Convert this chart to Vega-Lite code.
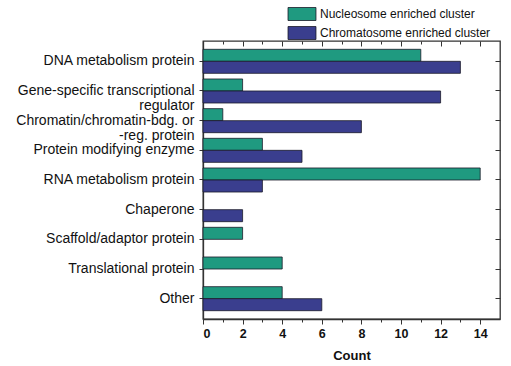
{
  "$schema": "https://vega.github.io/schema/vega-lite/v6.json",
  "width": 297,
  "height": 278,
  "autosize": {"type": "none"},
  "padding": {"left": 203, "top": 41, "right": 11, "bottom": 47},
  "background": "white",
  "config": {
    "font": "Liberation Sans",
    "view": {"stroke": "#333333", "strokeWidth": 1.3},
    "axis": {"domainColor": "#333333", "tickColor": "#333333", "labelColor": "#111111", "titleColor": "#111111", "grid": false, "domainWidth": 1.3, "tickWidth": 1}
  },
  "data": {
    "values": [
      {"category": "DNA metabolism protein", "series": "Nucleosome enriched cluster", "count": 11},
      {"category": "DNA metabolism protein", "series": "Chromatosome enriched cluster", "count": 13},
      {"category": "Gene-specific transcriptional regulator", "series": "Nucleosome enriched cluster", "count": 2},
      {"category": "Gene-specific transcriptional regulator", "series": "Chromatosome enriched cluster", "count": 12},
      {"category": "Chromatin/chromatin-bdg. or -reg. protein", "series": "Nucleosome enriched cluster", "count": 1},
      {"category": "Chromatin/chromatin-bdg. or -reg. protein", "series": "Chromatosome enriched cluster", "count": 8},
      {"category": "Protein modifying enzyme", "series": "Nucleosome enriched cluster", "count": 3},
      {"category": "Protein modifying enzyme", "series": "Chromatosome enriched cluster", "count": 5},
      {"category": "RNA metabolism protein", "series": "Nucleosome enriched cluster", "count": 14},
      {"category": "RNA metabolism protein", "series": "Chromatosome enriched cluster", "count": 3},
      {"category": "Chaperone", "series": "Chromatosome enriched cluster", "count": 2},
      {"category": "Scaffold/adaptor protein", "series": "Nucleosome enriched cluster", "count": 2},
      {"category": "Translational protein", "series": "Nucleosome enriched cluster", "count": 4},
      {"category": "Other", "series": "Nucleosome enriched cluster", "count": 4},
      {"category": "Other", "series": "Chromatosome enriched cluster", "count": 6}
    ]
  },
  "resolve": {"axis": {"x": "independent", "y": "independent"}},
  "layer": [
    {
      "mark": {"type": "bar", "stroke": "#1a1a2a", "strokeWidth": 0.8},
      "encoding": {
        "y": {
          "field": "category", "type": "nominal",
          "sort": ["DNA metabolism protein", "Gene-specific transcriptional regulator", "Chromatin/chromatin-bdg. or -reg. protein", "Protein modifying enzyme", "RNA metabolism protein", "Chaperone", "Scaffold/adaptor protein", "Translational protein", "Other"],
          "scale": {"paddingInner": 0.19, "paddingOuter": 0.28},
          "axis": {
            "title": null, "orient": "left", "domain": true, "tickSize": 4, "labelPadding": 5,
            "labelFontSize": 14, "labelLineHeight": 15, "labelLimit": 300,
            "labelExpr": "datum.value == 'Gene-specific transcriptional regulator' ? ['Gene-specific transcriptional', 'regulator'] : datum.value == 'Chromatin/chromatin-bdg. or -reg. protein' ? ['Chromatin/chromatin-bdg. or', '-reg. protein'] : datum.value"
          }
        },
        "x": {
          "field": "count", "type": "quantitative",
          "scale": {"domain": [0, 15], "nice": false, "zero": true},
          "axis": {
            "title": "Count", "titleFontSize": 13, "titleFontWeight": "bold", "titlePadding": 10,
            "orient": "bottom",
            "values": [0, 1, 2, 3, 4, 5, 6, 7, 8, 9, 10, 11, 12, 13, 14],
            "labelExpr": "datum.value % 2 == 0 ? datum.label : ''",
            "labelFontSize": 12.5, "labelFontWeight": "bold", "labelPadding": 3,
            "tickSize": {"condition": {"test": "datum.value % 2 == 0", "value": 5}, "value": 3}
          }
        },
        "yOffset": {"field": "series", "type": "nominal", "sort": ["Nucleosome enriched cluster", "Chromatosome enriched cluster"], "scale": {"paddingInner": 0, "paddingOuter": 0}},
        "color": {
          "field": "series", "type": "nominal",
          "sort": ["Nucleosome enriched cluster", "Chromatosome enriched cluster"],
          "scale": {"domain": ["Nucleosome enriched cluster", "Chromatosome enriched cluster"], "range": ["#1f9a80", "#3a3e8e"]},
          "legend": {
            "title": null, "orient": "none", "legendX": 92, "legendY": -34,
            "symbolType": "M-2.15,-1H2.15V1H-2.15Z", "symbolSize": 169,
            "symbolStrokeColor": "#1a1a2a", "symbolStrokeWidth": 0.8, "symbolOpacity": 1,
            "labelFontSize": 12, "labelColor": "#111111", "labelOffset": 11, "labelLimit": 0, "rowPadding": 1, "padding": 0
          }
        }
      }
    },
    {
      "mark": {"type": "point", "opacity": 0},
      "encoding": {
        "x": {
          "field": "count", "type": "quantitative",
          "axis": {
            "title": null, "orient": "top", "labels": false, "domain": false,
            "values": [0, 1, 2, 3, 4, 5, 6, 7, 8, 9, 10, 11, 12, 13, 14],
            "tickSize": {"condition": {"test": "datum.value % 2 == 0", "value": -5}, "value": -3}
          }
        },
        "y": {
          "field": "category", "type": "nominal",
          "sort": ["DNA metabolism protein", "Gene-specific transcriptional regulator", "Chromatin/chromatin-bdg. or -reg. protein", "Protein modifying enzyme", "RNA metabolism protein", "Chaperone", "Scaffold/adaptor protein", "Translational protein", "Other"],
          "axis": {"title": null, "orient": "right", "labels": false, "domain": false, "tickSize": -5}
        }
      }
    }
  ]
}
